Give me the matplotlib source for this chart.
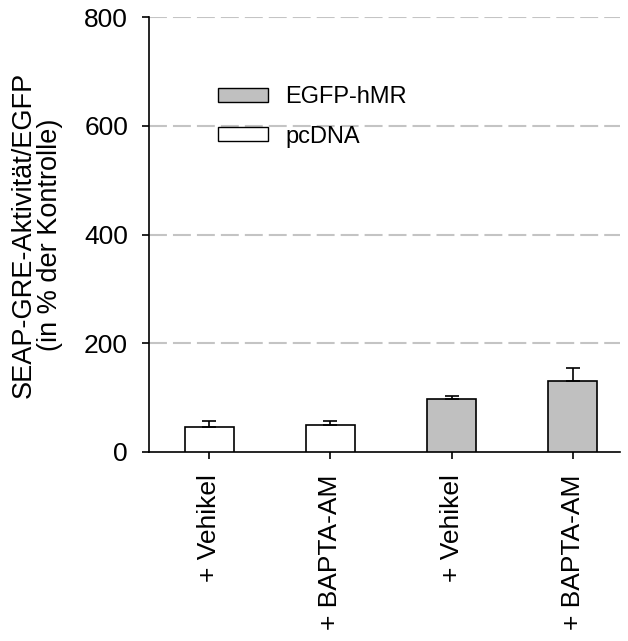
import matplotlib
matplotlib.use("Agg")
import matplotlib.pyplot as plt
from matplotlib.patches import Patch

plt.rcParams['font.family'] = ['Liberation Sans', 'DejaVu Sans']

# Messwerte (% der Kontrolle) mit Fehler nach oben
labels = ["+ Vehikel", "+ BAPTA-AM", "+ Vehikel", "+ BAPTA-AM"]
values = [46, 49, 98, 130]
errors = [10, 7, 4, 24]
groups = ["pcDNA", "pcDNA", "EGFP-hMR", "EGFP-hMR"]
group_colors = {"pcDNA": "white", "EGFP-hMR": "#c0c0c0"}

fig = plt.figure(figsize=(6.28, 6.41), dpi=100)
ax = fig.add_axes([0.237, 0.295, 0.750, 0.678])

x = list(range(len(values)))
ax.bar(x, values, width=0.41, color=[group_colors[g] for g in groups],
       edgecolor="black", linewidth=1.2, zorder=3)
ax.errorbar(x, values, yerr=[[0] * len(errors), errors], fmt="none",
            ecolor="black", elinewidth=1.2, capsize=5, capthick=1.2, zorder=4)

ax.set_ylim(0, 800)
ax.set_xlim(-0.5, 3.39)
ax.set_yticks([0, 200, 400, 600, 800])
ax.set_xticks(x)
ax.set_xticklabels(labels, rotation=90, va="top", ha="center")
ax.tick_params(axis="both", labelsize=19, direction="out", length=5, width=1.2)
ax.tick_params(axis="y", pad=10)
ax.tick_params(axis="x", pad=11)

for yv in [200, 400, 600, 800]:
    ax.axhline(yv, color="#c4c4c4", linewidth=1.5, dashes=(8.6, 2.9), zorder=1)

for s in ["top", "right"]:
    ax.spines[s].set_visible(False)
for s in ["left", "bottom"]:
    ax.spines[s].set_linewidth(1.2)

ax.set_ylabel("SEAP-GRE-Aktivität/EGFP\n(in % der Kontrolle)", fontsize=19.5,
              labelpad=15, linespacing=1.0)

handles = [Patch(facecolor="#c0c0c0", edgecolor="black", linewidth=1.0),
           Patch(facecolor="white", edgecolor="black", linewidth=1.0)]
fig.legend(handles, ["EGFP-hMR", "pcDNA"], loc="upper left",
           bbox_to_anchor=(218 / 628, 1 - 86 / 641), frameon=False,
           fontsize=17, handlelength=2.1, handleheight=0.55,
           labelspacing=0.75, borderpad=0, borderaxespad=0, handletextpad=0.75)

fig.savefig("out.png", dpi=100)
